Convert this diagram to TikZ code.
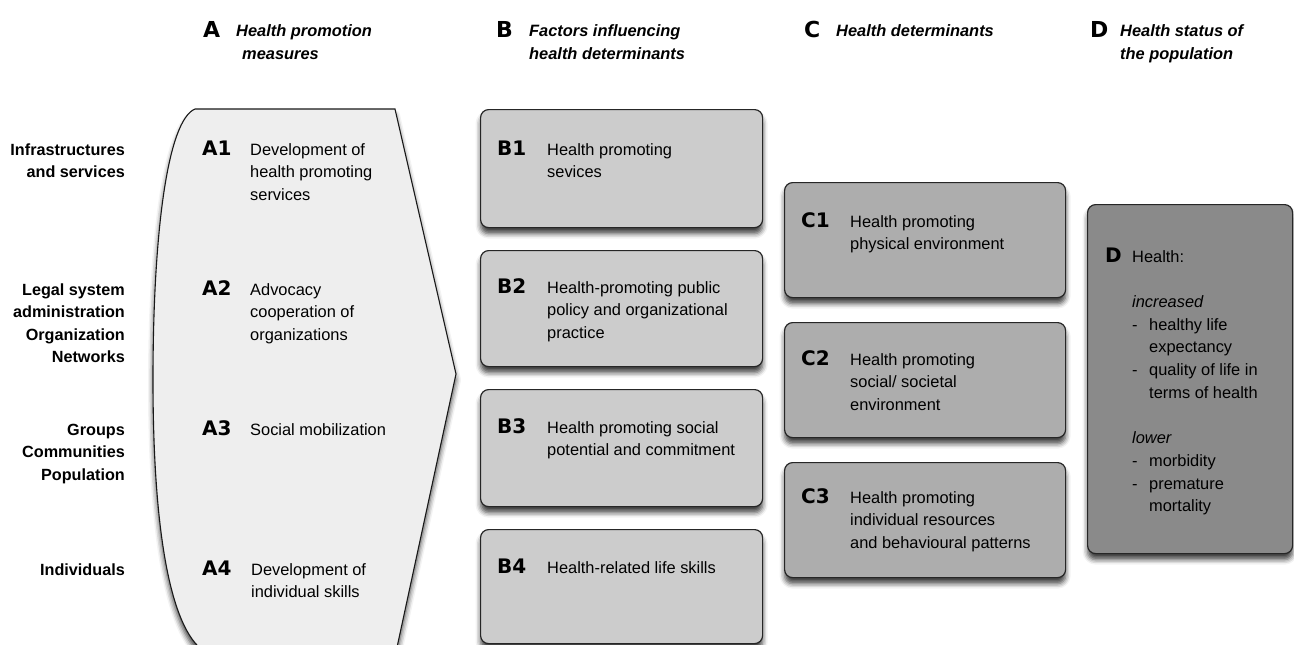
\documentclass[tikz,border=0pt]{standalone}
\usepackage{fontspec}
\setmainfont{Liberation Sans}
\newfontfamily\heavyfont{DejaVu Sans}
\usepackage{xcolor}
\usepackage{tikz}
\usetikzlibrary{positioning,calc,shadows.blur}

\definecolor{fillA}{HTML}{EEEEEE}
\definecolor{fillB}{HTML}{CCCCCC}
\definecolor{fillC}{HTML}{ADADAD}
\definecolor{fillD}{HTML}{8A8A8A}

% lines hang from the baseline of the first one
\newcommand{\llines}[1]{\begin{tabular}[t]{@{}l@{}}#1\end{tabular}}
\newcommand{\rlines}[1]{\begin{tabular}[t]{@{}r@{}}#1\end{tabular}}

\tikzset{
    txt/.style={font=\fontsize{16.4}{22.8}\selectfont, anchor=base west, inner sep=0pt},
    rowlabel/.style={font=\bfseries\fontsize{16.2}{22.6}\selectfont, anchor=base east, inner sep=0pt},
    tag/.style={font=\heavyfont\bfseries\fontsize{20}{22}\selectfont, anchor=base west, inner sep=0pt},
    headtag/.style={tag, font=\heavyfont\bfseries\fontsize{22}{24}\selectfont},
    head/.style={font=\bfseries\itshape\fontsize{16.4}{24}\selectfont, anchor=base west, inner sep=0pt},
    shade/.style={blur shadow={shadow xshift=0pt, shadow yshift=-6pt, shadow opacity=75, shadow blur radius=5pt}},
    box/.style={draw=black!85, line width=1.2pt, rounded corners=8pt, anchor=north west, inner sep=0pt, shade}
}

\begin{document}
\begin{tikzpicture}[x=1pt,y=-1pt]
    \useasboundingbox (0,0) rectangle (1294,645);

    % Headers
    \node[headtag] (hA) at (203,37) {A};
    \node[head] (hAtxt) at (236,36) {\llines{Health promotion\\\hspace*{6pt}measures}};
    \node[headtag] (hB) at (496,37) {B};
    \node[head] (hBtxt) at (529,36) {\llines{Factors influencing\\health determinants}};
    \node[headtag] (hC) at (804,37) {C};
    \node[head] (hCtxt) at (836,36) {Health determinants};
    \node[headtag] (hD) at (1090,37) {D};
    \node[head] (hDtxt) at (1120,36) {\llines{Health status of\\the population}};

    % Levels
    \node[rowlabel] (lev1) at (125,155) {\rlines{Infrastructures\\and services}};
    \node[rowlabel] (lev2) at (125,295) {\rlines{Legal system\\administration\\Organization\\Networks}};
    \node[rowlabel] (lev3) at (125,435) {\rlines{Groups\\Communities\\Population}};
    \node[rowlabel] (lev4) at (125,575) {Individuals};

    % Column A
    \draw[fill=fillA, draw=black!90, line width=1.1pt, shade]
        (195,109) -- (395,109) -- (456,374) -- (396,652) -- (205,652)
        .. controls (168,628) and (153,520) .. (153,380)
        .. controls (153,230) and (168,120) .. (195,109) -- cycle;
    \node[tag] (A1) at (202,155) {A1};
    \node[txt] (A1txt) at (250,155) {\llines{Development of\\health promoting\\services}};
    \node[tag] (A2) at (202,295) {A2};
    \node[txt] (A2txt) at (250,295) {\llines{Advocacy\\cooperation of\\organizations}};
    \node[tag] (A3) at (202,435) {A3};
    \node[txt] (A3txt) at (250,435) {Social mobilization};
    \node[tag] (A4) at (202,575) {A4};
    \node[txt] (A4txt) at (251,575) {\llines{Development of\\individual skills}};

    % Column B
    \node[box, fill=fillB, minimum width=282pt, minimum height=118pt] (B1) at (480,109) {};
    \node[box, fill=fillB, minimum width=282pt, minimum height=116pt] (B2) at (480,250) {};
    \node[box, fill=fillB, minimum width=282pt, minimum height=117pt] (B3) at (480,389) {};
    \node[box, fill=fillB, minimum width=282pt, minimum height=114pt] (B4) at (480,529) {};
    \node[tag] (B1tag) at ([shift={(17,46)}]B1.north west) {B1};
    \node[txt] (B1txt) at ([shift={(67,46)}]B1.north west) {\llines{Health promoting\\sevices}};
    \node[tag] (B2tag) at ([shift={(17,43)}]B2.north west) {B2};
    \node[txt] (B2txt) at ([shift={(67,43)}]B2.north west) {\llines{Health-promoting public\\policy and organizational\\practice}};
    \node[tag] (B3tag) at ([shift={(17,44)}]B3.north west) {B3};
    \node[txt] (B3txt) at ([shift={(67,44)}]B3.north west) {\llines{Health promoting social\\potential and commitment}};
    \node[tag] (B4tag) at ([shift={(17,44)}]B4.north west) {B4};
    \node[txt] (B4txt) at ([shift={(67,44)}]B4.north west) {Health-related life skills};

    % Column C
    \node[box, fill=fillC, minimum width=281pt, minimum height=115pt] (C1) at (784,182) {};
    \node[box, fill=fillC, minimum width=281pt, minimum height=115pt] (C2) at (784,322) {};
    \node[box, fill=fillC, minimum width=281pt, minimum height=115pt] (C3) at (784,462) {};
    \node[tag] (C1tag) at ([shift={(17,45)}]C1.north west) {C1};
    \node[txt] (C1txt) at ([shift={(66,45)}]C1.north west) {\llines{Health promoting\\physical environment}};
    \node[tag] (C2tag) at ([shift={(17,43)}]C2.north west) {C2};
    \node[txt] (C2txt) at ([shift={(66,43)}]C2.north west) {\llines{Health promoting\\social/ societal\\environment}};
    \node[tag] (C3tag) at ([shift={(17,41)}]C3.north west) {C3};
    \node[txt] (C3txt) at ([shift={(66,41)}]C3.north west) {\llines{Health promoting\\individual resources\\and behavioural patterns}};

    % Column D
    \node[box, fill=fillD, minimum width=205pt, minimum height=349pt] (Dbox) at (1087,204) {};
    \node[tag] (Dtag) at ([shift={(18,58)}]Dbox.north west) {D};
    \node[txt, font=\fontsize{16.4}{22.7}\selectfont] (Dtxt) at ([shift={(45,58)}]Dbox.north west)
        {\llines{Health:\\[22.7pt]
         \textit{increased}\\
         \makebox[17pt][l]{-}healthy life\\
         \hspace*{17pt}expectancy\\
         \makebox[17pt][l]{-}quality of life in\\
         \hspace*{17pt}terms of health\\[22.7pt]
         \textit{lower}\\
         \makebox[17pt][l]{-}morbidity\\
         \makebox[17pt][l]{-}premature\\
         \hspace*{17pt}mortality}};
\end{tikzpicture}
\end{document}
